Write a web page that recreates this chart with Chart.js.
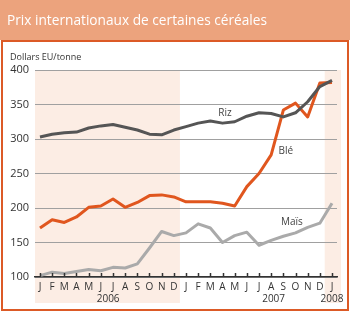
<!DOCTYPE html>
<html>
<head>
<meta charset="utf-8">
<script src="https://cdn.jsdelivr.net/npm/chart.js@4"></script>
<style>
  html, body { margin: 0; padding: 0; background: #fff; }
  #wrap { width: 350px; height: 315px; position: relative; }
</style>
</head>
<body>
<div id="wrap"><canvas id="myChart" width="350" height="315"></canvas></div>
<script>
// Month tick labels, Jan 2006 .. Jan 2008
const months = ['J','F','M','A','M','J','J','A','S','O','N','D',
                'J','F','M','A','M','J','J','A','S','O','N','D','J'];
const yTicks = [100, 150, 200, 250, 300, 350, 400];

// Prices, US dollars per tonne
const riz = [303, 307, 309, 310, 316, 319, 321, 317, 313, 307, 306, 313,
             318, 323, 326, 323, 325, 333, 338, 337, 332, 338, 354, 376, 385];
const ble = [171, 183, 179, 187, 201, 203, 213, 201, 208, 218, 219, 216,
             209, 209, 209, 207, 203, 231, 250, 277, 342, 352, 332, 381, 382];
const mais = [102, 107, 105, 108, 111, 109, 114, 113, 119, 142, 166, 160,
              164, 177, 171, 150, 160, 165, 146, 153, 159, 164, 172, 178, 207];

const seriesNames = ['Riz', 'Blé', 'Maïs'];
const years = [['2006', 5.6], ['2007', 19.2], ['2008', 24]];

const FONT = '"Open Sans", "DejaVu Sans", sans-serif';

// Header, frame, shaded year bands, year labels, inner ticks, series names
const decor = {
  id: 'decor',
  beforeDraw(chart) {
    const ctx = chart.ctx;
    const x = chart.scales.x;
    const area = chart.chartArea;
    ctx.save();
    ctx.fillStyle = '#fff';
    ctx.fillRect(0, 0, 350, 315);
    ctx.fillStyle = '#eca37d';
    ctx.fillRect(0, 0, 350, 40);
    ctx.strokeStyle = '#dc5a26';
    ctx.lineWidth = 2;
    ctx.strokeRect(2, 41, 346, 269);

    ctx.fillStyle = '#fff';
    ctx.font = '13.7px ' + FONT;
    ctx.textBaseline = 'alphabetic';
    ctx.fillText('Prix internationaux de certaines céréales', 7, 25);

    ctx.fillStyle = '#333';
    ctx.font = '9px ' + FONT;
    ctx.fillText('Dollars EU/tonne', 10, 60);

    // shaded bands
    ctx.fillStyle = '#fcede4';
    const x1 = x.getPixelForValue(11.5);
    ctx.fillRect(area.left, area.top, x1 - area.left, 303 - area.top);
    const x2 = x.getPixelForValue(23.4);
    ctx.fillRect(x2, area.top, 341 - x2, 303 - area.top);
    ctx.restore();
  },
  afterDatasetsDraw(chart) {
    const ctx = chart.ctx;
    const x = chart.scales.x;
    const y = chart.scales.y;
    const area = chart.chartArea;
    ctx.save();
    // month ticks pointing up into the plot
    ctx.strokeStyle = '#333';
    ctx.lineWidth = 1.5;
    months.forEach((m, i) => {
      const px = Math.round(x.getPixelForValue(i)) + 0.5;
      ctx.beginPath();
      ctx.moveTo(px, area.bottom);
      ctx.lineTo(px, area.bottom - 4);
      ctx.stroke();
    });
    // year labels
    ctx.fillStyle = '#333';
    ctx.font = '10px ' + FONT;
    ctx.textAlign = 'center';
    ctx.textBaseline = 'middle';
    years.forEach(([t, v]) => {
      ctx.fillText(t, x.getPixelForValue(v), 299);
    });
    // series names
    ctx.fillStyle = '#444';
    ctx.fillText(seriesNames[0], x.getPixelForValue(15.2), y.getPixelForValue(338));
    ctx.fillText(seriesNames[1], x.getPixelForValue(20.2), y.getPixelForValue(283));
    ctx.fillText(seriesNames[2], x.getPixelForValue(20.7), y.getPixelForValue(180));
    ctx.restore();
  }
};

const toPoints = arr => arr.map((v, i) => ({ x: i, y: v }));

const data = {
  datasets: [
    { label: seriesNames[2], data: toPoints(mais), borderColor: '#aaaaaa' },
    { label: seriesNames[0], data: toPoints(riz), borderColor: '#555555' },
    { label: seriesNames[1], data: toPoints(ble), borderColor: '#e0561e' }
  ].map(d => Object.assign(d, {
    borderWidth: 3,
    pointRadius: 0,
    tension: 0,
    fill: false,
    borderJoinStyle: 'round'
  }))
};

const config = {
  type: 'line',
  data: data,
  options: {
    responsive: false,
    animation: false,
    layout: { padding: { top: 70, right: 13, left: 0, bottom: 0 } },
    plugins: {
      legend: { display: false },
      tooltip: { enabled: false }
    },
    scales: {
      x: {
        type: 'linear',
        min: -0.41,
        max: 24.41,
        afterFit: s => { s.height = 38; },
        afterBuildTicks: s => { s.ticks = months.map((m, i) => ({ value: i })); },
        grid: { display: false, drawTicks: false },
        border: { display: true, color: '#333', width: 1.5 },
        ticks: {
          autoSkip: false,
          maxRotation: 0,
          padding: 4,
          color: '#333',
          font: { family: FONT, size: 10 },
          callback: v => months[v]
        }
      },
      y: {
        min: 100,
        max: 400,
        afterFit: s => { s.width = 35; },
        afterBuildTicks: s => { s.ticks = yTicks.map(v => ({ value: v })); },
        grid: { color: '#a0a0a0', lineWidth: 1, drawTicks: false },
        border: { display: false },
        ticks: {
          padding: 6,
          color: '#333',
          font: { family: FONT, size: 11 }
        }
      }
    }
  },
  plugins: [decor]
};

new Chart(document.getElementById('myChart'), config);
</script>
</body>
</html>
